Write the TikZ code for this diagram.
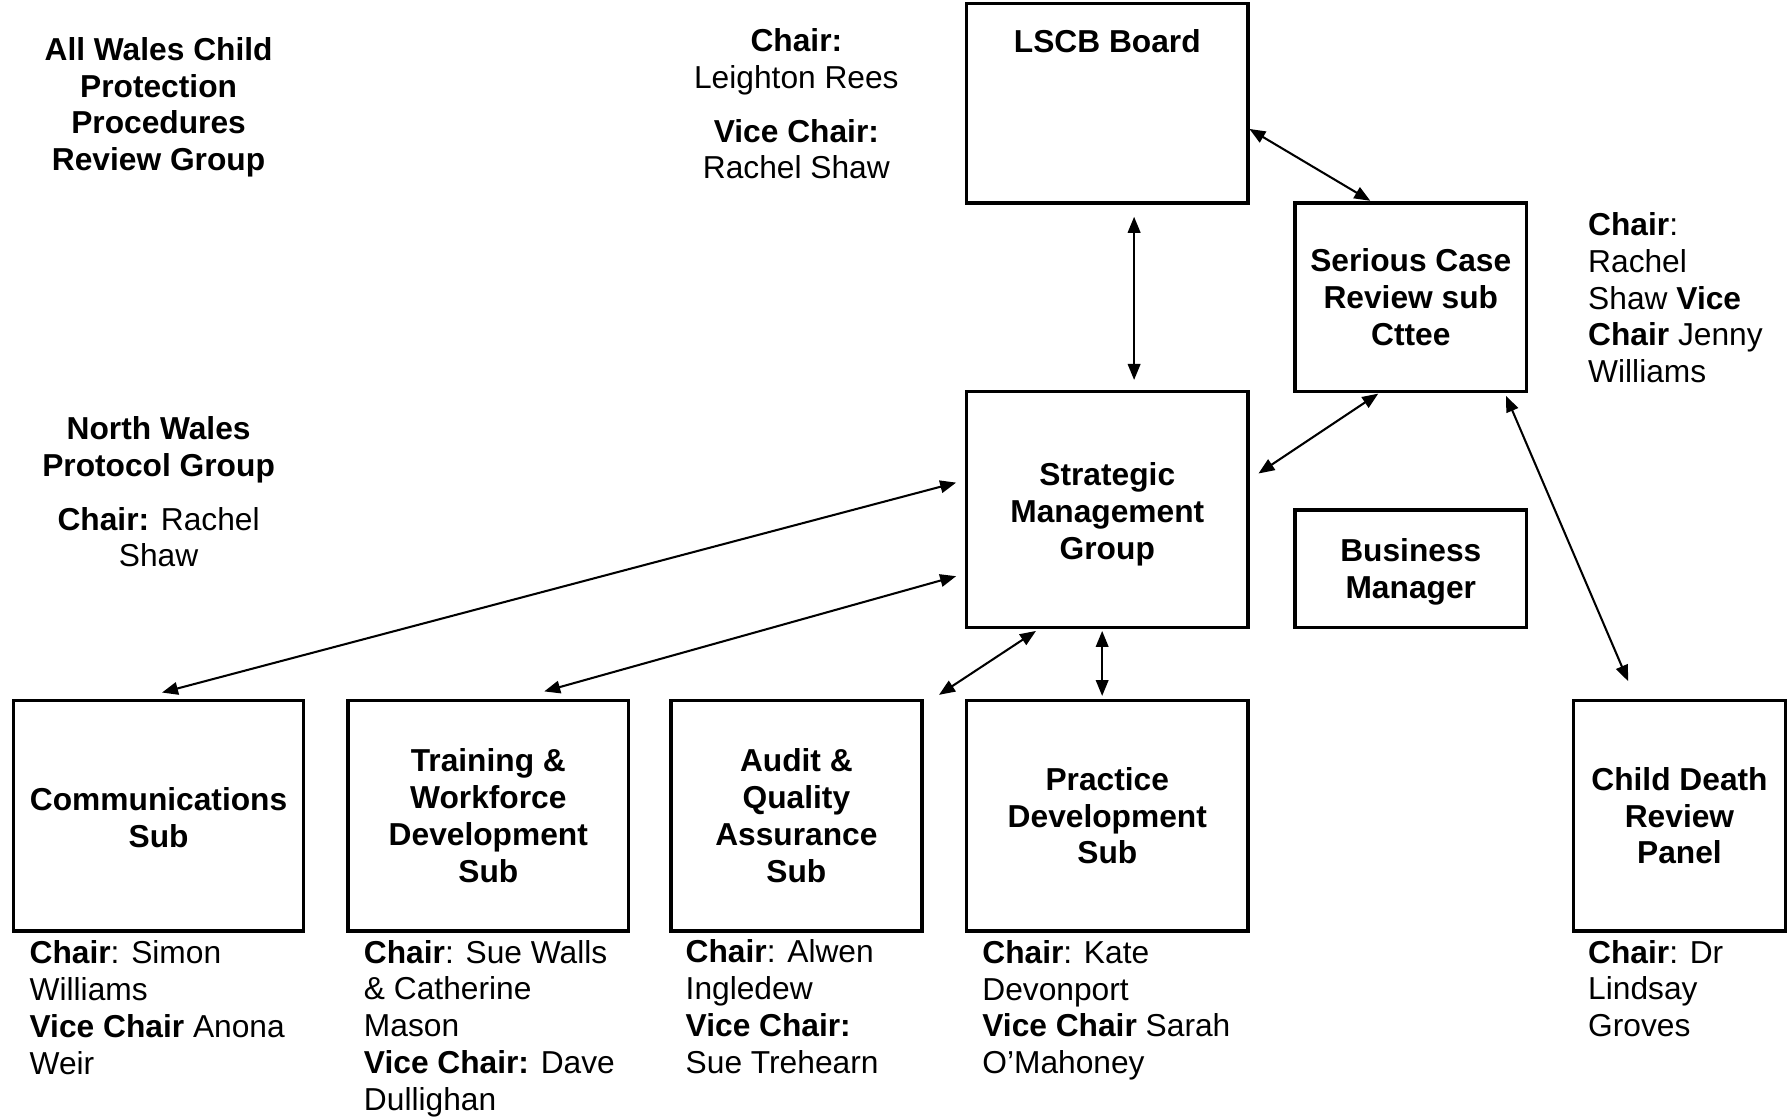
\documentclass[tikz,border=0pt]{standalone}
\usepackage{fontspec}
\setmainfont{Liberation Sans}
\usetikzlibrary{arrows.meta,calc}
\tikzset{
  box/.style={draw, line width=3pt, inner sep=0pt, outer sep=0pt, align=center, font=\bfseries},
  txt/.style={inner sep=0pt, outer sep=0pt},
  arr/.style={{Triangle[length=14pt,width=11pt]}-{Triangle[length=14pt,width=11pt]}, line width=1.8pt}
}
\begin{document}
\begin{tikzpicture}[x=1pt,y=-1pt]
\fontsize{27.8}{32.3}\selectfont
\useasboundingbox (0,0) rectangle (1568,979);
% boxes
\node[box, minimum width=247pt, minimum height=175pt] (lscb) at (970.5,90.5) {};
\node[txt, font=\bfseries] (lscbt) at (970.5,36) {LSCB Board};
\node[box, minimum width=203pt, minimum height=165pt] (scr) at (1236.5,260.5) {Serious Case\\Review sub\\Cttee};
\node[box, minimum width=247pt, minimum height=207pt] (smg) at (970.5,446.5) {};
\node[txt, align=center, font=\bfseries] (smgt) at (970.5,450.5) {Strategic\\Management\\Group};
\node[box, minimum width=203pt, minimum height=103pt] (bm) at (1236.5,498.5) {};
\node[txt, align=center, font=\bfseries] (bmt) at (1236.5,501.5) {Business\\Manager};
\node[box, minimum width=254pt, minimum height=202pt] (comm) at (139,715) {};
\node[txt, align=center, font=\bfseries] (commt) at (139,717) {Communications\\Sub};
\node[box, minimum width=246pt, minimum height=202pt] (train) at (428,715) {Training \&\\Workforce\\Development\\Sub};
\node[box, minimum width=220pt, minimum height=202pt] (audit) at (698,715) {Audit \&\\Quality\\Assurance\\Sub};
\node[box, minimum width=247pt, minimum height=202pt] (prac) at (970.5,715) {Practice\\Development\\Sub};
\node[box, minimum width=186pt, minimum height=202pt] (cdr) at (1472,715) {Child Death\\Review\\Panel};
% free texts
\node[txt, align=center, font=\bfseries] (awcp) at (139,94) {All Wales Child\\Protection\\Procedures\\Review Group};
\node[txt, align=center] (nwpg) at (139,431) {\textbf{North Wales}\\\textbf{Protocol Group}\\[15pt]\textbf{Chair:} Rachel\\Shaw};
\node[txt, align=center] (lscbc) at (698,91) {\textbf{Chair:}\\Leighton Rees\\[15pt]\textbf{Vice Chair:}\\Rachel Shaw};
\node[txt, align=left, anchor=west] (scrc) at (1392,261) {\textbf{Chair}:\\Rachel\\Shaw \textbf{Vice}\\\textbf{Chair} Jenny\\Williams};
\node[txt, align=left, anchor=west] (commc) at (26,883) {\textbf{Chair}: Simon\\Williams\\\textbf{Vice Chair} Anona\\Weir};
\node[txt, align=left, anchor=west] (trainc) at (319,901.5) {\textbf{Chair}: Sue Walls\\\& Catherine\\Mason\\\textbf{Vice Chair:} Dave\\Dullighan};
\node[txt, align=left, anchor=west] (auditc) at (601,882.5) {\textbf{Chair}: Alwen\\Ingledew\\\textbf{Vice Chair:}\\Sue Trehearn};
\node[txt, align=left, anchor=west] (pracc) at (861,885.5) {\textbf{Chair}: Kate\\Devonport\\\textbf{Vice Chair} Sarah\\O’Mahoney};
\node[txt, align=left, anchor=west] (cdrc) at (1392,866.5) {\textbf{Chair}: Dr\\Lindsay\\Groves};
% connector ends
\coordinate (a1s) at ($(lscb.north east)+(1,110)$);
\coordinate (a1e) at ($(scr.north west)+(66,-2)$);
\coordinate (a2s) at ($(lscb.south west)+(147,12)$);
\coordinate (a2e) at ($(smg.north west)+(147,-10)$);
\coordinate (a3s) at ($(scr.south west)+(73,2)$);
\coordinate (a3e) at ($(smg.north east)+(9,72)$);
\coordinate (a4s) at ($(scr.south east)+(-18,4)$);
\coordinate (a4e) at ($(cdr.north west)+(48,-17)$);
\coordinate (a5s) at ($(smg.north west)+(-9,80)$);
\coordinate (a5e) at ($(comm.north)+(3,-7)$);
\coordinate (a6s) at ($(smg.north west)+(-9,162)$);
\coordinate (a6e) at ($(train.north east)+(-74,-8)$);
\coordinate (a7s) at ($(smg.south west)+(61,3)$);
\coordinate (a7e) at ($(audit.north east)+(15,-5)$);
\coordinate (a8s) at ($(smg.south west)+(119,3)$);
\coordinate (a8e) at ($(prac.north west)+(119,-4)$);
\draw[arr] (a1s) -- (a1e);
\draw[arr] (a2s) -- (a2e);
\draw[arr] (a3s) -- (a3e);
\draw[arr] (a4s) -- (a4e);
\draw[arr] (a5s) -- (a5e);
\draw[arr] (a6s) -- (a6e);
\draw[arr] (a7s) -- (a7e);
\draw[arr] (a8s) -- (a8e);
\end{tikzpicture}
\end{document}
